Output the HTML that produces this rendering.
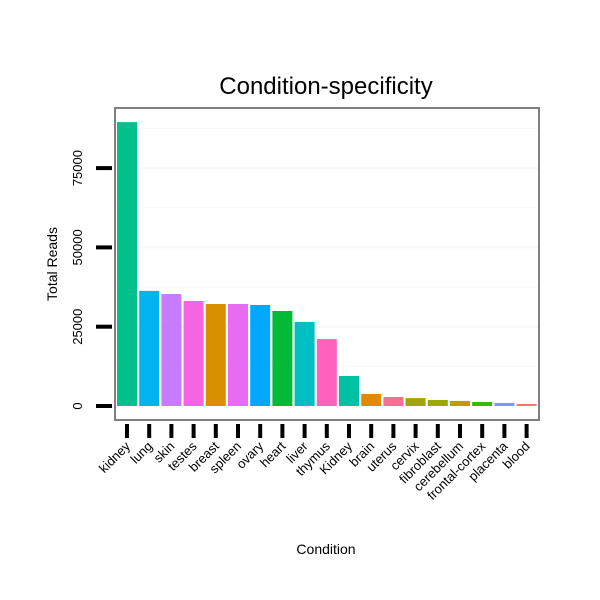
<!DOCTYPE html>
<html><head><meta charset="utf-8"><style>body{margin:0;background:#fff}svg{display:block;font-family:"Liberation Sans",sans-serif}</style></head>
<body>
<svg id="chart" width="600" height="600">
<text x="326" y="94" font-size="24" text-anchor="middle">Condition-specificity</text>
<text x="326" y="554" font-size="14" text-anchor="middle">Condition</text>
<text transform="translate(57,264) rotate(-90)" font-size="14" text-anchor="middle">Total Reads</text>
<g id="grid"></g><g id="bars"></g><g id="axes"></g>
<rect x="115" y="108" width="424" height="312" fill="none" stroke="#7f7f7f" stroke-width="2"/>
</svg>
<script>
const categories=["kidney","lung","skin","testes","breast","spleen","ovary","heart","liver","thymus","Kidney","brain","uterus","cervix","fibroblast","cerebellum","frontal-cortex","placenta","blood"];
const values=[89500,36300,35300,33100,32150,32150,31850,29950,26500,21100,9460,3800,2840,2500,1900,1600,1260,950,630];
const colors=["#00C08B","#00B4EF","#C77CFF","#F564E3","#D89000","#E76BF3","#00A9FF","#00BA38","#00BFC4","#FF62BC","#00C1A3","#E58700","#FF6C91","#A3A500","#9CA700","#C99800","#39B600","#8494FF","#F8766D"];
const yTicks=[0,25000,50000,75000];
const yTickLabels=["0","25000","50000","75000"];
const NS="http://www.w3.org/2000/svg";
const y0=406,pxPer=79.3/25000,x0=117,band=22.2,bw=20;
const ys=v=>y0-v*pxPer, xs=i=>x0+i*band;
function mk(t,a,p){const e=document.createElementNS(NS,t);for(const k in a)e.setAttribute(k,a[k]);p.appendChild(e);return e;}
const G=document.getElementById('grid'),B=document.getElementById('bars'),A=document.getElementById('axes');
for(let v=12500;v<95000;v+=12500){const g=mk('line',{x1:115,x2:539,y1:ys(v),y2:ys(v),stroke:'#f7f7f7','stroke-width':v%25000?1:2},G);

}
categories.forEach((c,i)=>{
const r=mk('rect',{x:xs(i),y:ys(values[i]),width:bw,height:values[i]*pxPer,fill:colors[i]},B);


const cx=xs(i)+bw/2;
const t=mk('line',{x1:cx,x2:cx,y1:424,y2:438,stroke:'#000','stroke-width':4},A);


const l=mk('text',{transform:`translate(${cx+4},447) rotate(-45)`,'font-size':13,'text-anchor':'end'},A);
l.textContent=c;


});
yTicks.forEach((v,i)=>{
const t=mk('line',{x1:96,x2:112,y1:ys(v),y2:ys(v),stroke:'#000','stroke-width':4},A);


const l=mk('text',{transform:`translate(82,${ys(v)}) rotate(-90)`,'font-size':13,'text-anchor':'middle'},A);
l.textContent=yTickLabels[i];


});
</script>
</body></html>
